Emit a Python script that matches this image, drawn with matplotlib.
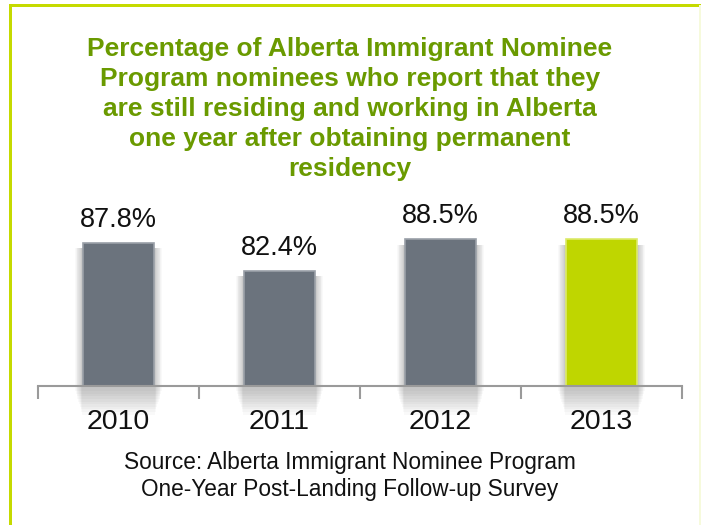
import matplotlib
matplotlib.use("Agg")
import matplotlib.pyplot as plt
from matplotlib.patches import Rectangle

years = ["2010", "2011", "2012", "2013"]
values = [87.8, 82.4, 88.5, 88.5]
labels = ["87.8%", "82.4%", "88.5%", "88.5%"]
bar_colors = ["#6b737d", "#6b737d", "#6b737d", "#bfd600"]
edge_colors = ["#9aa0a8", "#9aa0a8", "#9aa0a8", "#dcea6a"]

title = ("Percentage of Alberta Immigrant Nominee\n"
         "Program nominees who report that they\n"
         "are still residing and working in Alberta\n"
         "one year after obtaining permanent\n"
         "residency")
source = "Source: Alberta Immigrant Nominee Program\nOne-Year Post-Landing Follow-up Survey"

plt.rcParams['font.family'] = ['Liberation Sans', 'DejaVu Sans']

W, H = 701, 525
fig = plt.figure(figsize=(W / 100, H / 100), dpi=100)
fig.patch.set_facecolor("white")

# border (top & left bright, right faint)
fig.add_artist(Rectangle((9 / W, -0.05), 3 / W, 1.05 - 4 / H, transform=fig.transFigure,
                         color="#c5da00", lw=0))
fig.add_artist(Rectangle((9 / W, 1 - 7 / H), 1.0, 3 / H, transform=fig.transFigure,
                         color="#c5da00", lw=0))
fig.add_artist(Rectangle((699 / W, -0.05), 2 / W, 1.05 - 5 / H, transform=fig.transFigure,
                         color="#f6fadc", lw=0))

ymin, ymax = 60.3, 100.0
px_per_unit = 5.2
ax_h = (ymax - ymin) * px_per_unit
ax_bottom = H - 386
ax = fig.add_axes([38 / W, ax_bottom / H, 644 / W, ax_h / H])
ax.set_xlim(-0.5, 3.5)
ax.set_ylim(ymin, ymax)
ax.set_facecolor("none")

bw = 0.44
# soft shadows
n_layers = 10
for i, v in enumerate(values):
    for k in range(n_layers):
        extra = 0.10 * (k + 1) / n_layers
        depth = 5.0 * (1 - k / n_layers) + 0.5
        ax.bar(i, (v - 1.0) - (ymin - depth), width=bw + extra, bottom=ymin - depth,
               color="black", alpha=0.022, lw=0, clip_on=False, zorder=1)

bars = ax.bar(range(len(values)), [v - ymin for v in values], bottom=ymin, width=bw,
              color=bar_colors, edgecolor=edge_colors, linewidth=1.2, zorder=3)

for i, (v, lab) in enumerate(zip(values, labels)):
    ax.text(i, v + 1.9, lab, ha="center", va="bottom", fontsize=19.5, color="#111111", zorder=4)

for s in ["top", "right", "left"]:
    ax.spines[s].set_visible(False)
ax.spines["bottom"].set_color("#9a9a9a")
ax.spines["bottom"].set_linewidth(1.5)
ax.spines["bottom"].set_zorder(5)
ax.set_yticks([])
ax.set_xticks(range(len(years)))
ax.set_xticklabels(years, fontsize=20.5, color="#111111")
ax.tick_params(axis="x", which="major", length=0, pad=16.3)
ax.set_xticks([-0.5, 0.5, 1.5, 2.5, 3.5], minor=True)
ax.tick_params(axis="x", which="minor", length=9, width=1.5, color="#9a9a9a")

fig.text(350 / W, 1 - 37 / H, title, ha="center", va="top", fontsize=19, fontweight="bold",
         color="#6a9a00", linespacing=1.31)
fig.text(350 / W, 1 - 451 / H, source, ha="center", va="top", fontsize=16.3,
         color="#111111", linespacing=1.24)

fig.savefig("out.png", dpi=100, facecolor="white")
